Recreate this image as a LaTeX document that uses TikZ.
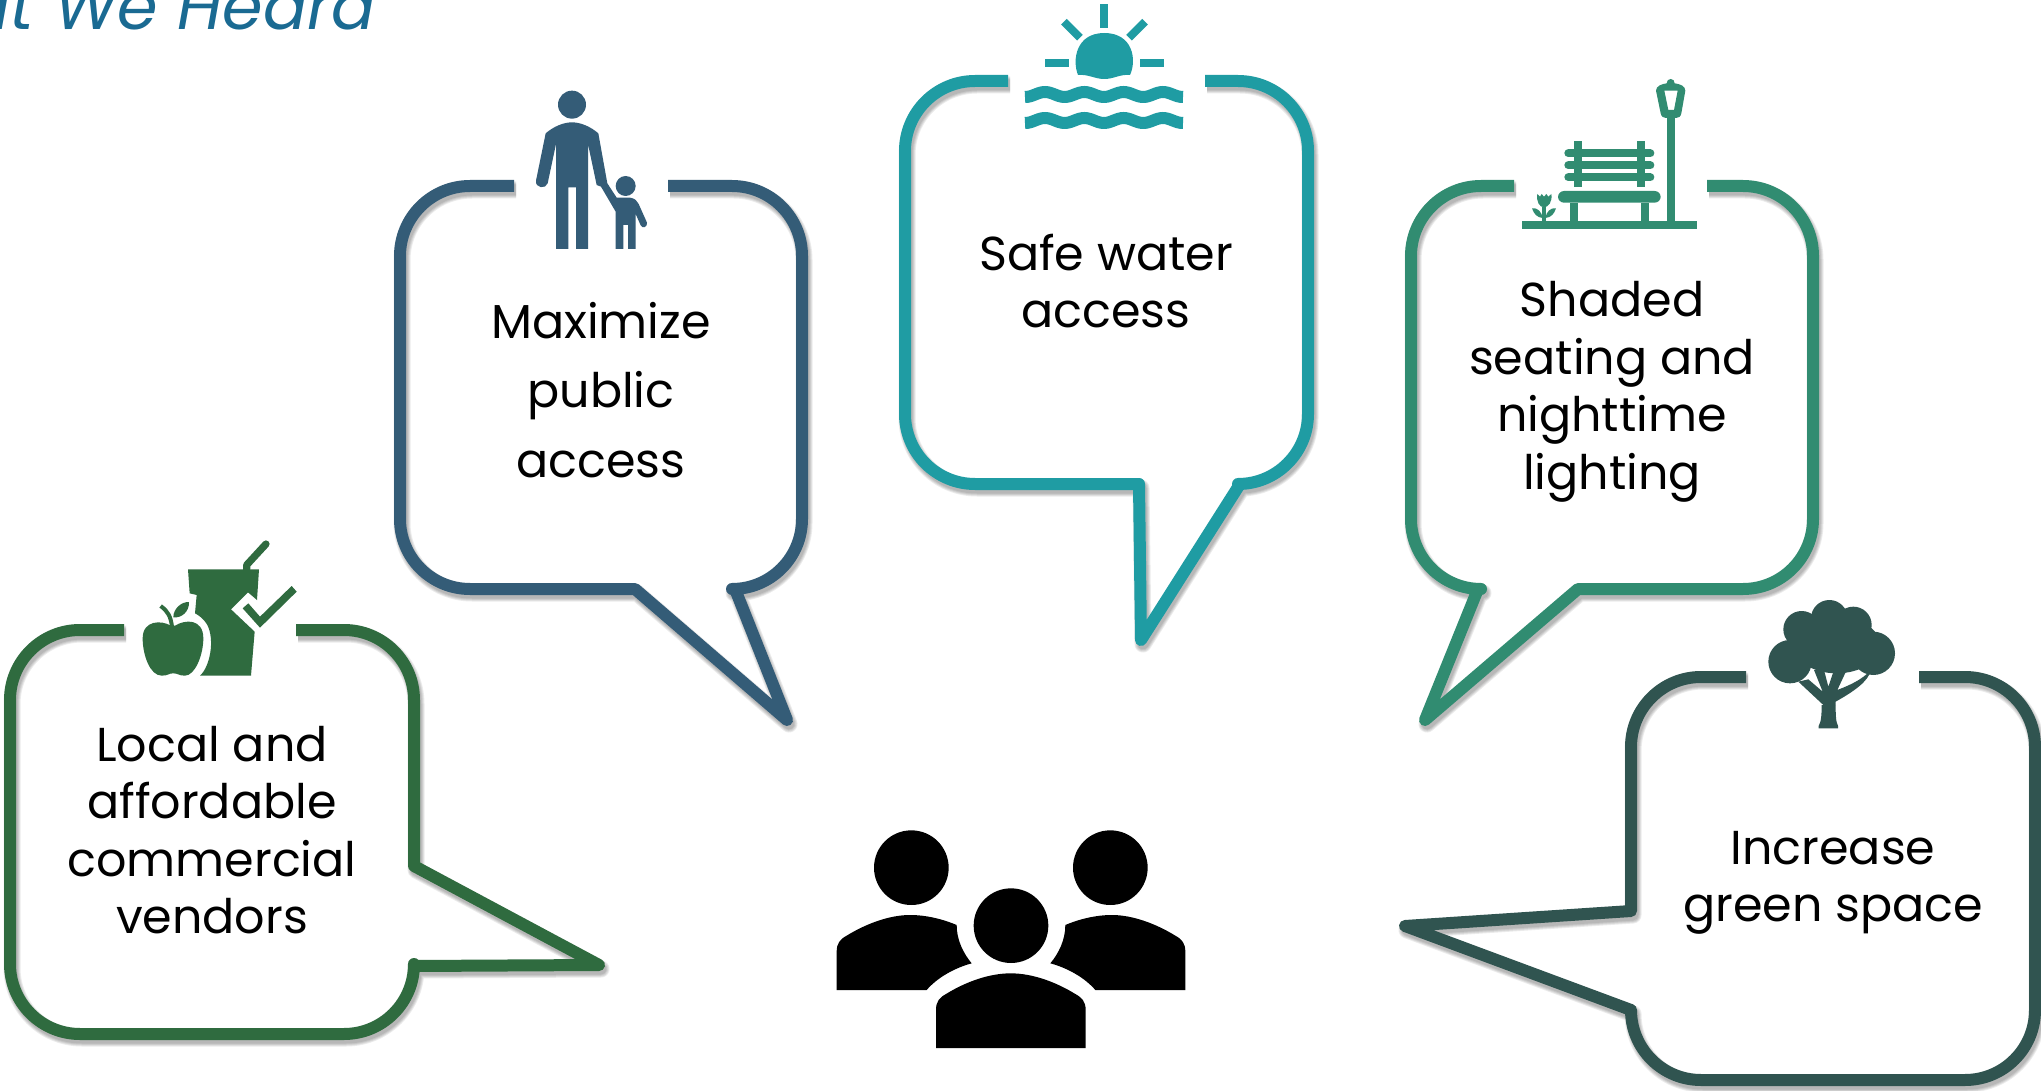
\documentclass[tikz,border=0pt]{standalone}
\usepackage{fontspec}
\setmainfont{Poppins}
\definecolor{cblue}{HTML}{345C77}
\definecolor{cteal}{HTML}{1F9CA3}
\definecolor{cgreen}{HTML}{318C71}
\definecolor{cleaf}{HTML}{2F6B3F}
\definecolor{cdark}{HTML}{305450}
\definecolor{ctitle}{HTML}{1A6A92}
\tikzset{
  bubbleline/.style={line width=6pt,line join=round,line cap=butt},
  saytext/.style={align=center,inner sep=0pt,font=\fontsize{23.8}{28.8}\selectfont},
  sayloose/.style={saytext,font=\fontsize{23.8}{34.8}\selectfont},
}
% shadow layers + line
\newcommand{\speechbubble}[2]{%
  \foreach \w in {8.5,7.5,6.5,5.5}{%
    \draw[black,opacity=.08,line width=\w pt,line join=round,shift={(2,4)}] #2;
  }
  \draw[bubbleline,draw=#1] #2;
}
\begin{document}
\begin{tikzpicture}[x=0.5pt,y=-0.5pt]
\useasboundingbox (0,0) rectangle (2041,1091);
\clip (0,0) rectangle (2041,1091);
\fill[white] (0,0) rectangle (2041,1091);

\node[anchor=base east,inner sep=0pt,text=ctitle,font=\fontsize{32.6}{40}\selectfont\itshape] (title) at (376,30) {What We Heard};

% bubbles
\speechbubble{cblue}{(668,186) [rounded corners=35pt] -- (802,186) -- (802,589) [sharp corners] -- (735,589) -- (787,720) -- (635,589) [rounded corners=35pt] -- (400,589) -- (400,186) -- (514,186)}
\speechbubble{cteal}{(1205,81) [rounded corners=35pt] -- (1308,81) -- (1308,484) [sharp corners] -- (1240,484) -- (1141,640) -- (1139,484) [rounded corners=35pt] -- (905,484) -- (905,81) -- (1008,81)}
\speechbubble{cgreen}{(1707,186) [rounded corners=35pt] -- (1813,186) -- (1813,589) [sharp corners] -- (1578,589) -- (1425,720) -- (1478,589) [rounded corners=35pt] -- (1411,589) -- (1411,186) -- (1514,186)}
\speechbubble{cleaf}{(296,630) [rounded corners=35pt] -- (414,630) [sharp corners] -- (414,866) -- (599,965) -- (414,966) [rounded corners=35pt] -- (414,1034) -- (10,1034) -- (10,630) -- (124,630)}
\speechbubble{cdark}{(1919,677) [rounded corners=35pt] -- (2035,677) -- (2035,1080) -- (1631,1080) [sharp corners] -- (1631,1010) -- (1405,926) -- (1631,911) [rounded corners=35pt] -- (1631,677) -- (1746,677)}

% texts
\node[sayloose] (t1) at (601,390) {Maximize\\public\\access};
\node[saytext] (t2) at (1106,281) {Safe water\\access};
\node[saytext] (t3) at (1612,392) {Shaded\\seating and\\nighttime\\lighting};
\node[saytext] (t4) at (212,830) {Local and\\affordable\\commercial\\vendors};
\node[saytext] (t5) at (1833,883) {Increase\\green space};

% sun and water
\begin{scope}[cteal]
\fill (1100,4) rectangle (1108,28);
\fill (1045,59) rectangle (1069,67);
\fill (1140,59) rectangle (1164,67);
\draw[line width=4pt] (1064,21.7) -- (1080,37.7);
\draw[line width=4pt] (1145,21.7) -- (1129,37.7);
\fill (1078,75) .. controls (1072,60) and (1076,33) .. (1104.3,33) .. controls (1133,33) and (1137,60) .. (1130,75) .. controls (1120,74) and (1114,79) .. (1104,79) .. controls (1095,79) and (1088,74) .. (1078,75) -- cycle;
\draw[line width=6pt] plot[domain=1025:1183,samples=70] (\x,{94.5-2.5*cos((\x-1045)/39.3*360)});
\draw[line width=6pt] plot[domain=1025:1183,samples=70] (\x,{120.5-2.5*cos((\x-1045)/39.3*360)});
\end{scope}

% adult and child
\begin{scope}[shift={(500,70)},scale=1/3,cblue]
\fill (216,104) circle (42);
\fill (377,348) circle (30);
\fill[line join=round] (137,190) .. controls (160,170) and (190,157) .. (216,157) .. controls (242,157) and (272,170) .. (295,190)
  -- (322,340) -- (350,383) -- (390,383) .. controls (405,385) and (412,393) .. (416,402) -- (441,458) .. controls (443,470) and (428,478) .. (422,466) -- (407,432) -- (407,537) -- (384,537) -- (384,465) -- (370,465) -- (370,537) -- (347,537) -- (347,425) -- (303,350) -- (290,345) -- (264,222) -- (264,537) -- (228,537) -- (228,352) -- (205,352) -- (205,537) -- (168,537) -- (168,222) -- (143,340) .. controls (138,358) and (105,355) .. (108,332) -- cycle;
\end{scope}

% bench and lamp
\begin{scope}[shift={(1500,60)},scale=1/3,cgreen]
\fill (67,483) rectangle (590,507);
\fill (500,170) rectangle (524,483);
\fill[even odd rule] (512,57) .. controls (505,57) and (500,62) .. (500,70) .. controls (485,72) and (468,78) .. (468,92) -- (482,160) .. controls (484,170) and (490,174) .. (498,174) -- (528,174) .. controls (536,174) and (542,170) .. (544,160) -- (556,92) .. controls (556,78) and (540,72) .. (524,70) .. controls (524,62) and (519,57) .. (512,57) -- cycle
  (493,92) -- (533,92) -- (522,150) -- (505,150) -- cycle;
\fill[rounded corners=3pt] (174,393) rectangle (482,428);
\fill (209,428) rectangle (233,483);
\fill (423,428) rectangle (447,483);
\draw[line width=4pt,line cap=round] (205,280) -- (451,280);
\draw[line width=4pt,line cap=round] (205,316) -- (451,316);
\draw[line width=4pt,line cap=round] (205,352) -- (451,352);
\fill (221,244) rectangle (245,381);
\fill (411,244) rectangle (435,381);
\fill (127,440) rectangle (137,483);
\fill (112,402) -- (120,410) -- (125,402) -- (132,410) -- (139,402) -- (145,410) -- (154,402) .. controls (158,425) and (145,442) .. (132,442) .. controls (119,442) and (108,425) .. (112,402) -- cycle;
\fill (96,445) .. controls (112,442) and (125,455) .. (128,474) .. controls (110,472) and (102,462) .. (96,445) -- cycle;
\fill (168,445) .. controls (152,442) and (139,455) .. (136,474) .. controls (154,472) and (162,462) .. (168,445) -- cycle;
\end{scope}

% apple, cup, check
\begin{scope}[shift={(120,530)},scale=1/3,cleaf]
\fill (204,118) -- (417,118) -- (411,210) -- (384,187) -- (333,238) -- (404,305) -- (393,437) -- (240,437) .. controls (270,410) and (285,330) .. (262,285) .. controls (250,265) and (235,255) .. (225,250) -- (230,195) -- (209,190) -- cycle;
\draw[line width=3.6pt,line cap=round,line join=round] (380,118) -- (380,105) -- (438,42);
\fill (368,235) -- (385,220) -- (420,260) -- (515,168) -- (530,185) -- (420,293) -- cycle;
\fill (165,287) .. controls (195,268) and (250,265) .. (250,325) .. controls (250,375) and (225,437) .. (195,437) .. controls (175,437) and (175,430) .. (160,430) .. controls (145,430) and (145,437) .. (125,437) .. controls (90,437) and (68,375) .. (68,325) .. controls (68,270) and (125,270) .. (152,287) -- cycle;
\draw[line width=2pt] (122,228) .. controls (145,245) and (152,260) .. (156,290);
\fill (160,262) .. controls (160,235) and (185,215) .. (207,216) .. controls (208,245) and (185,265) .. (160,262) -- cycle;
\end{scope}

% tree
\begin{scope}[shift={(1740,590)},scale=1/3,cdark]
\fill (185,118) circle (55);
\fill (268,85) circle (55);
\fill (340,105) circle (55);
\fill (150,215) circle (65);
\fill (400,190) circle (65);
\fill (290,165) ellipse (130 and 85);
\fill (160,130) rectangle (400,210);
\fill (245,345) .. controls (245,370) and (244,395) .. (236,408) -- (236,415) -- (294,415) -- (294,408) .. controls (287,395) and (287,370) .. (287,345) -- cycle;
\fill (250,345) -- (175,275) -- (205,268) -- (248,305) -- (222,240) -- (252,240) -- (265,290) -- (282,240) -- (320,240) -- (292,300) .. controls (330,285) and (365,270) .. (393,240) .. controls (385,275) and (340,305) .. (287,335) -- (287,345) -- cycle;
\end{scope}

% crowd
\begin{scope}[shift={(820,810)},scale=1/3,black]
\fill (274,173) circle (112);
\fill (871,173) circle (112);
\fill (573,347) circle (112);
\fill (50,540) -- (50,425) .. controls (50,400) and (60,388) .. (80,377) .. controls (140,340) and (210,315) .. (270,315) .. controls (320,315) and (370,328) .. (410,345) .. controls (410,390) and (430,430) .. (455,460) .. controls (400,475) and (350,505) .. (320,540) -- cycle;
\fill (1096,540) -- (1096,425) .. controls (1096,400) and (1086,388) .. (1066,377) .. controls (1006,340) and (936,315) .. (876,315) .. controls (826,315) and (776,328) .. (736,345) .. controls (736,390) and (716,430) .. (691,460) .. controls (746,475) and (796,505) .. (826,540) -- cycle;
\fill (348,714) -- (348,600) .. controls (348,575) and (358,563) .. (378,552) .. controls (438,515) and (508,490) .. (572,490) .. controls (636,490) and (706,515) .. (766,552) .. controls (786,563) and (797,575) .. (797,600) -- (797,714) -- cycle;
\end{scope}
\end{tikzpicture}
\end{document}
